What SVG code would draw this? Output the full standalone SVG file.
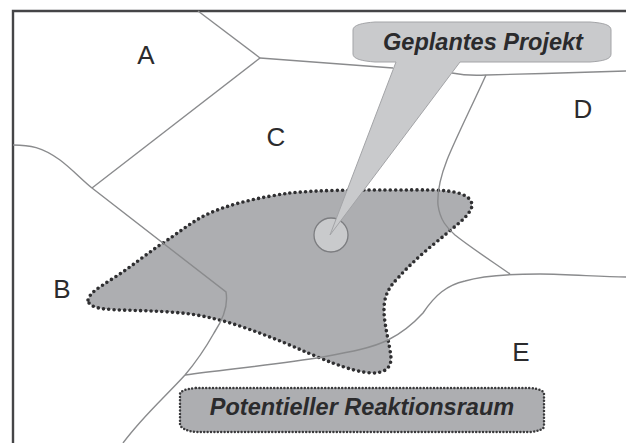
<svg xmlns="http://www.w3.org/2000/svg" width="626" height="443" viewBox="0 0 626 443">
<style>
.bg{fill:#fff}
.line{fill:none;stroke:#8a8b8d;stroke-width:1.4}
.frame{fill:none;stroke:#454547;stroke-width:2.4}
.zone{fill:#adaeb1;stroke:#2f2f31;stroke-width:3.6;stroke-dasharray:0 5.3;stroke-linecap:round}
.zone2{fill:#adaeb1;stroke:#3a3a3c;stroke-width:2.5;stroke-dasharray:0 3.4;stroke-linecap:round}
.light{fill:#c9cacc;stroke:#a3a4a7;stroke-width:1}
.circle{fill:#c9cacc;stroke:#7c7d80;stroke-width:1.3}
.lab{font-family:"Liberation Sans",Arial,sans-serif;font-size:26px;fill:#2b2b2d;text-anchor:middle}
.cap{font-family:"Liberation Sans",Arial,sans-serif;font-size:23.5px;font-weight:bold;font-style:italic;fill:#2b2b2d;text-anchor:middle}
</style>
<rect class="bg" width="626" height="443"/>
<g id="connectors">
<path class="frame" d="M13 443V11H626"/>
<path class="line" d="M198 11L260 58"/>
<path class="line" d="M260 58L393 68M452 73C462 75 470 76 486 75C530 74 590 72 626 71"/>
<path class="line" d="M260 58L92 188"/>
</g>
<g id="zone">
<path class="zone" d="M88 300C90 292 100 287 112 279C130 268 146 254 163 243C178 233 188 225 200 218C225 204 262 197 290 193C320 190 350 190 395 190C420 190 445 189 458 193C470 196 474 203 471 209C467 218 455 226 445 235C430 247 412 262 398 278C388 288 384 297 384 310C384 325 390 345 391 358C391 368 385 373 372 373C350 372 320 358 285 343C255 331 225 319 190 314C160 310 125 311 105 309C95 308 88 305 88 300Z"/>
</g>
<g id="boundaries">
<path class="line" d="M13 145C30 145 42 147 60 160C72 169 82 180 92 188L226 292C228 303 224 318 214 333C205 349 196 362 185 375C165 397 143 416 123 443"/>
<path class="line" d="M185 375C230 369 280 364 323 357C350 352 372 348 388 340C402 333 412 325 423 313C435 295 447 285 465 281C485 275 510 274 540 274C570 274 600 277 626 277"/>
<path class="line" d="M486 75C470 110 455 140 447 160C440 178 437 192 438 205C440 220 447 228 455 235C470 247 490 260 510 274"/>
</g>
<g id="site">
<circle class="circle" cx="331" cy="235" r="17"/>
</g>
<g id="callout">
<path class="light" d="M375 22H590C604 23 611 25 611 30V54C611 59 604 61 590 62H460L330 235L396 62H375C362 61 353 59 353 54V30C353 25 362 23 375 22Z"/>
<text class="cap" x="483" y="50">Geplantes Projekt</text>
</g>
<g id="reaktionsraum">
<path class="zone2" d="M196 388H530C540 389 544 391 544 394V426C544 429 540 431 530 432H196C186 431 180 428 180 424V394C180 391 186 389 196 388Z"/>
<text class="cap" x="362" y="415">Potentieller Reaktionsraum</text>
</g>
<g id="region-labels">
<text class="lab" x="146" y="64">A</text>
<text class="lab" x="62" y="298">B</text>
<text class="lab" x="276" y="146">C</text>
<text class="lab" x="583" y="118">D</text>
<text class="lab" x="521" y="361">E</text>
</g>
</svg>
